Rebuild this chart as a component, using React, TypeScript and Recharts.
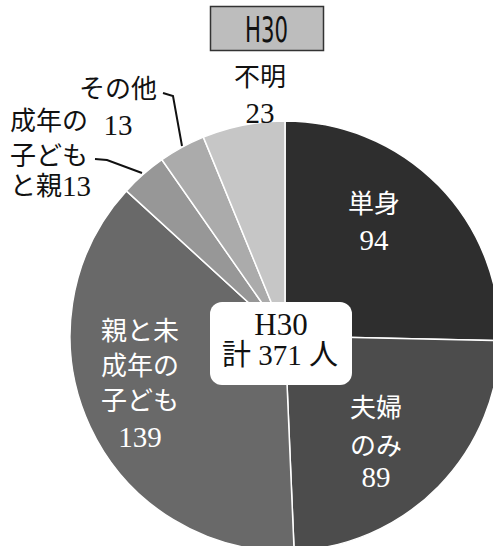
import React from 'react';
import { PieChart, Pie, Cell } from 'recharts';

const categories = ['単身', '夫婦のみ', '親と未成年の子ども', '成年の子どもと親', 'その他', '不明'];
const values = [94, 89, 139, 13, 13, 23];
const labelLines: string[][] = [
  ['単身', '94'],
  ['夫婦', 'のみ', '89'],
  ['親と未', '成年の', '子ども', '139'],
  ['成年の', '子ども', 'と親13'],
  ['その他', '13'],
  ['不明', '23'],
];
const yearLabel = 'H30';
const totalLabel = '計 371 人';

const sliceColors = ['#2e2e2e', '#4c4c4c', '#696969', '#979797', '#ababab', '#c6c6c6'];
const labelFill = ['#fff', '#fff', '#fff', '#111', '#111', '#111'];

// label layout (centers of each text line), presentation only
const labelLayout = [
  { x: 374, ys: [204, 240], anchor: 'middle' },
  { x: 376, ys: [408, 446, 477], anchor: 'middle' },
  { x: 140, ys: [331, 366, 401, 437], anchor: 'middle' },
  { x: 10, ys: [121, 156, 186], anchor: 'start' },
  { x: 118, ys: [89, 125], anchor: 'middle' },
  { x: 260, ys: [77, 113], anchor: 'middle' },
];
const leaderLines: Record<number, string> = {
  3: '95,159 107,160 142,173',
  4: '163,93 173,96 182,146',
};

const data = categories.map((name, i) => ({ name, value: values[i] }));

const FONT = "'Liberation Serif', 'DejaVu Serif', 'Noto Sans CJK JP', serif";

const isNum = (s: string) => /^[0-9]+$/.test(s);

const renderLabel = (props: any) => {
  const i = props.index as number;
  const lay = labelLayout[i];
  const lines = labelLines[i];
  return (
    <g key={`lbl-${i}`}>
      {leaderLines[i] && (
        <polyline points={leaderLines[i]} fill="none" stroke="#111" strokeWidth={2} />
      )}
      {lines.map((ln, k) => {
        const m = ln.match(/^(.*?)([0-9]+)$/);
        return (
          <text
            key={k}
            x={lay.x}
            y={lay.ys[k]}
            textAnchor={lay.anchor as any}
            dominantBaseline="central"
            fill={labelFill[i]}
            fontFamily={FONT}
            fontSize={isNum(ln) ? 29 : 26}
          >
            {m && m[1] ? (
              <>
                <tspan fontSize={26}>{m[1]}</tspan>
                <tspan fontSize={29}>{m[2]}</tspan>
              </>
            ) : (
              ln
            )}
          </text>
        );
      })}
    </g>
  );
};

export default function App() {
  return (
    <div style={{ position: 'absolute', left: 0, top: 0, width: 493, height: 546, background: '#fff' }}>
      <PieChart width={493} height={546} margin={{ top: 0, right: 0, bottom: 0, left: 0 }}>
        <Pie
          data={data}
          dataKey="value"
          nameKey="name"
          cx={285}
          cy={336}
          outerRadius={215}
          startAngle={90}
          endAngle={-270}
          stroke="#fff"
          strokeWidth={1.5}
          label={renderLabel}
          labelLine={false}
          isAnimationActive={false}
        >
          {data.map((d, i) => (
            <Cell key={d.name} fill={sliceColors[i]} />
          ))}
        </Pie>
      </PieChart>
      <svg
        width={493}
        height={546}
        style={{ position: 'absolute', left: 0, top: 0, pointerEvents: 'none' }}
      >
        <rect x={210.5} y={6.5} width={113} height={44} fill="#bdbdbd" stroke="#333" strokeWidth={1.5} />
        <text
          x={266.5}
          y={29}
          textAnchor="middle"
          dominantBaseline="central"
          fontFamily="'DejaVu Sans', sans-serif"
          fontSize={36}
          textLength={43}
          lengthAdjust="spacingAndGlyphs"
          fill="#111"
        >
          {yearLabel}
        </text>
        <rect x={210} y={302} width={142} height={83} rx={12} fill="#fff" />
        <text x={281} y={324} textAnchor="middle" dominantBaseline="central" fontFamily={FONT} fontSize={31} fill="#111">
          {yearLabel}
        </text>
        <text x={280} y={355} textAnchor="middle" dominantBaseline="central" fontFamily={FONT} fontSize={29} fill="#111">
          {totalLabel}
        </text>
      </svg>
    </div>
  );
}
